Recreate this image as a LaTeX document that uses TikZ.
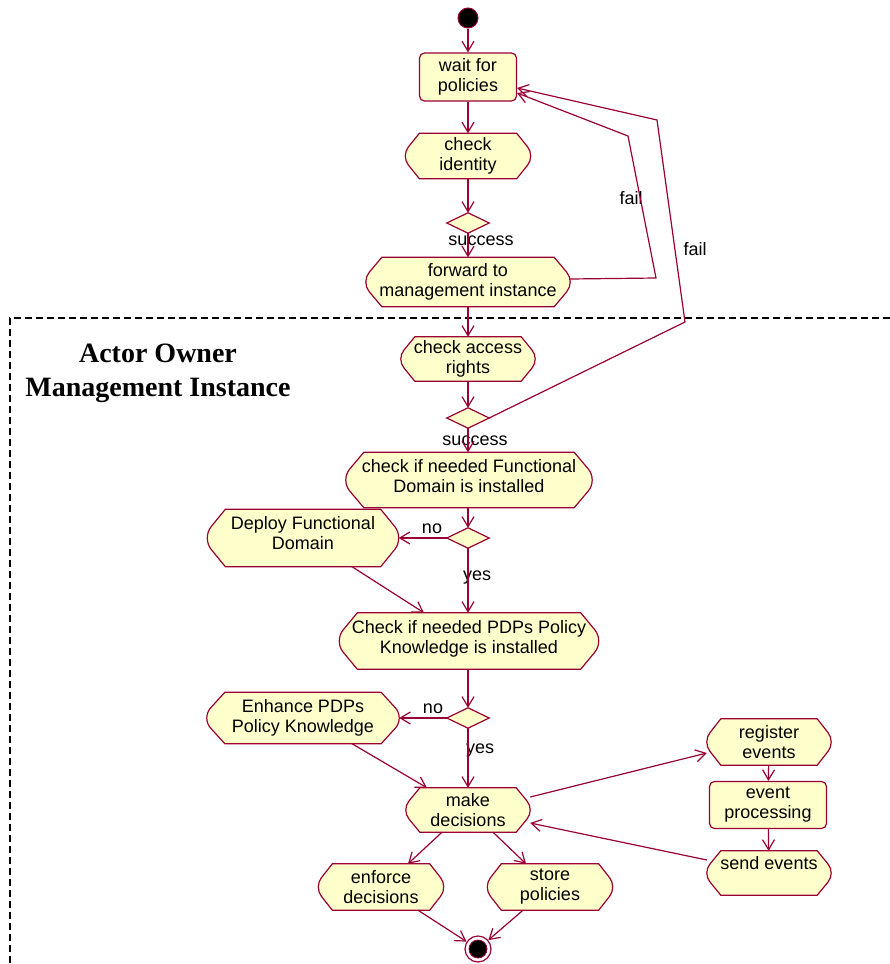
\documentclass[tikz,border=0pt]{standalone}
\usepackage{fontspec}
\setmainfont{Liberation Sans}
\newfontfamily\titlefont{Liberation Serif}
\usetikzlibrary{arrows.meta,calc}
\pgfdeclarelayer{background}
\pgfsetlayers{background,main}
\definecolor{umlred}{RGB}{153,0,51}
\definecolor{umlfill}{RGB}{255,255,204}

\tikzset{
  txt/.style={inner sep=0pt, align=center, font=\fontsize{18}{20}\selectfont},
  box/.style 2 args={txt, minimum width=#1, minimum height=#2},
  outline/.style={draw=umlred, fill=umlfill, line width=1.2pt},
  roundbox/.style={outline, rounded corners=5pt},
  decision/.style={inner sep=0pt, minimum width=42pt, minimum height=20pt},
  lbl/.style={txt, anchor=base},
  flow/.style={draw=umlred, line width=1.2pt,
    -{Straight Barb[length=10pt,width=12pt]}},
  swim/.style={draw=black, line width=2pt, dash pattern=on 7pt off 4pt},
}

% activity outline: flat top and bottom, chamfered ends that bulge round
% at the middle; #1 is the chamfer width, #2 the node
\newcommand\actoutline[2][16pt]{%
  \coordinate (#2-tl) at ([xshift=#1]#2.north west);
  \coordinate (#2-tr) at ([xshift=-#1]#2.north east);
  \coordinate (#2-bl) at ([xshift=#1]#2.south west);
  \coordinate (#2-br) at ([xshift=-#1]#2.south east);
  \coordinate (#2-ra) at ($(#2.north east)!0.3!(#2.south east)+(-0.22*#1,0)$);
  \coordinate (#2-rc) at ($(#2.north east)!0.413!(#2.south east)+(0.073*#1,0)$);
  \coordinate (#2-rd) at ($(#2.north east)!0.587!(#2.south east)+(0.073*#1,0)$);
  \coordinate (#2-rb) at ($(#2.north east)!0.7!(#2.south east)+(-0.22*#1,0)$);
  \coordinate (#2-la) at ($(#2.north west)!0.3!(#2.south west)+(0.22*#1,0)$);
  \coordinate (#2-lc) at ($(#2.north west)!0.413!(#2.south west)+(-0.073*#1,0)$);
  \coordinate (#2-ld) at ($(#2.north west)!0.587!(#2.south west)+(-0.073*#1,0)$);
  \coordinate (#2-lb) at ($(#2.north west)!0.7!(#2.south west)+(0.22*#1,0)$);
  \begin{pgfonlayer}{background}
    \filldraw[outline]
      (#2-tl) -- (#2-tr) -- (#2-ra)
      .. controls (#2-rc) and (#2-rd) .. (#2-rb)
      -- (#2-br) -- (#2-bl) -- (#2-lb)
      .. controls (#2-ld) and (#2-lc) .. (#2-la) -- cycle;
  \end{pgfonlayer}}

% decision diamond drawn on a named node
\newcommand\diamondshape[1]{%
  \filldraw[outline] (#1.north) -- (#1.east) -- (#1.south) -- (#1.west) -- cycle;}

\begin{document}
\begin{tikzpicture}[x=1pt, y=-1pt]
\useasboundingbox (0,0) rectangle (890,964);

% swimlane border
\draw[swim] (890,318) -- (10,318) -- (10,964);
\node[font=\titlefont\bfseries\fontsize{28}{34}\selectfont, align=center, inner sep=0pt]
  (lane) at (158,373) {Actor Owner\\Management Instance};

% initial and final states
\node[circle, draw=umlred, fill=black, line width=1pt, minimum size=20pt, inner sep=0pt]
  (start) at (468,18) {};
\node[circle, draw=umlred, fill=white, line width=1.2pt, minimum size=26pt, inner sep=0pt]
  (end) at (478,949) {};
\fill[black, draw=umlred, line width=0.8pt] (end.center) circle (9pt);

% activities
\node[box={97pt}{48pt}, roundbox] (wait) at (468,77) {wait for\\policies};
\node[box={125pt}{45pt}] (chkid) at (468,156) {check\\identity};
\node[decision] (d1) at (468,223) {};
\node[box={204pt}{49pt}] (fwd) at (468,282) {forward to\\management instance};
\node[box={134pt}{44pt}] (chkacc) at (468,359) {check access\\rights\\[-16pt]};
\node[decision] (d2) at (468,418) {};
\node[box={246pt}{55pt}] (chkfd) at (469,480) {check if needed Functional\\Domain is installed\\[-12pt]};
\node[decision] (d3) at (468,538) {};
\node[box={191pt}{57pt}] (deploy) at (303,538) {Deploy Functional\\Domain\\[-10pt]};
\node[box={259pt}{56pt}] (chkpdp) at (469,641) {Check if needed PDPs Policy\\Knowledge is installed\\[-12pt]};
\node[decision] (d4) at (468,718) {};
\node[box={192pt}{51pt}] (enhance) at (303,718) {Enhance PDPs\\Policy Knowledge\\[-16pt]};
\node[box={124pt}{44pt}] (make) at (468,810) {make\\decisions};
\node[box={125pt}{46pt}] (enforce) at (381,887) {enforce\\decisions};
\node[box={125pt}{46pt}] (store) at (550,887) {store\\policies};
\node[box={124pt}{46pt}] (register) at (769,742) {register\\events};
\node[box={117pt}{47pt}, roundbox] (evproc) at (768,805) {event\\processing\\[-16pt]};
\node[box={124pt}{44pt}] (send) at (769,873) {send events\\[0pt]};

\foreach \nd/\cs in {chkid/14pt,fwd/16pt,chkacc/14pt,chkfd/18pt,deploy/18pt,
    chkpdp/18pt,enhance/18pt,make/14pt,enforce/14pt,store/14pt,register/14pt,send/14pt}
  {\actoutline[\cs]{\nd}}
\foreach \nd in {d1,d2,d3,d4} {\diamondshape{\nd}}

% guard labels
\node[lbl] (s1) at (481,245) {success};
\node[lbl] (s2) at (475,445) {success};
\node[lbl] (f1) at (631,204) {fail};
\node[lbl] (f2) at (695,255) {fail};
\node[lbl] (n1) at (432,533) {no};
\node[lbl] (y1) at (477,580) {yes};
\node[lbl] (n2) at (433,713) {no};
\node[lbl] (y2) at (480,753) {yes};

% main flow
\draw[flow] (start) -- (wait);
\draw[flow] (wait) -- (chkid);
\draw[flow] (chkid) -- (d1.north);
\draw[flow] (d1.south) -- (fwd);
\draw[flow] (fwd) -- (chkacc);
\draw[flow] (chkacc) -- (d2.north);
\draw[flow] (d2.south) -- (chkfd.north -| d2.south);
\draw[flow] (chkfd.south -| d3.north) -- (d3.north);
\draw[flow] (d3.west) -- (deploy.east);
\draw[flow] (d3.south) -- (chkpdp.north -| d3.south);
\draw[flow] ([xshift=49pt]deploy.south) -- ([xshift=-45pt]chkpdp.north);
\draw[flow] (chkpdp.south -| d4.north) -- (d4.north);
\draw[flow] (d4.west) -- (enhance.east);
\draw[flow] (d4.south) -- (make);
\draw[flow] ([xshift=49pt]enhance.south) -- ([xshift=-41pt]make.north);
\draw[flow] ([xshift=-26pt]make.south) -- ([xshift=27pt]enforce.north);
\draw[flow] ([xshift=25pt]make.south) -- ([xshift=-24pt]store.north);
\draw[flow] ([xshift=37pt]enforce.south) -- (end);
\draw[flow] ([xshift=-27pt]store.south) -- (end);

% event handling
\draw[flow] ([yshift=13pt]make.east) -- ([yshift=-11pt]register.west);
\draw[flow] (register) -- (evproc);
\draw[flow] (evproc) -- (send);
\draw[flow] ([yshift=13pt]send.west) -- ([yshift=-13pt]make.east);

% failure loops back to the waiting state
\coordinate (fa) at (656,278);
\coordinate (fb) at (628,136);
\draw[flow] ([yshift=3pt]fwd.east) -- (fa) -- (fb) -- ([yshift=-16pt]wait.east);
\coordinate (ga) at (685,322);
\coordinate (gb) at (657,120);
\draw[flow] (d2.east) -- (ga) -- (gb) -- ([yshift=-11pt]wait.east);
\end{tikzpicture}
\end{document}
